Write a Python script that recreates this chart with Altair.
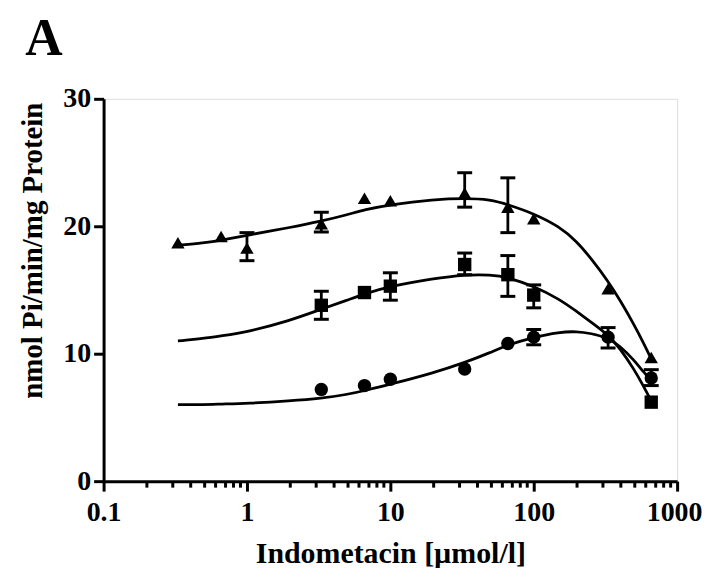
import altair as alt
import pandas as pd

FONT = "Liberation Serif"

# concentrations (µmol/l)
conc_tri = [0.33, 0.66, 1, 3.3, 6.6, 10, 33, 66, 100, 330, 660]
val_tri = [18.7, 19.2, 18.3, 20.2, 22.2, 22.0, 22.6, 21.5, 20.6, 15.1, 9.7]

conc_sq = [3.3, 6.6, 10, 33, 66, 100, 660]
val_sq = [13.8, 14.8, 15.3, 17.0, 16.2, 14.6, 6.2]

conc_ci = [3.3, 6.6, 10, 33, 66, 100, 330, 660]
val_ci = [7.2, 7.5, 8.0, 8.8, 10.8, 11.3, 11.3, 8.1]

# error bars (lo, hi)
err_tri_x = [1, 3.3, 33, 66]
err_tri_lo = [17.3, 19.55, 21.5, 19.5]
err_tri_hi = [19.5, 21.1, 24.2, 23.8]

err_sq_x = [3.3, 10, 33, 66, 100]
err_sq_lo = [12.7, 14.2, 16.2, 14.5, 13.6]
err_sq_hi = [14.9, 16.35, 17.9, 17.7, 15.4]

err_ci_x = [100, 330, 660]
err_ci_lo = [10.7, 10.45, 7.5]
err_ci_hi = [11.9, 12.05, 8.75]

# fitted curves
curve_x = [0.33, 0.5, 0.66, 1, 2, 3.3, 5, 6.6, 10, 20, 33, 50, 66, 100, 150, 200, 250, 330, 400, 500, 580, 660]
curve_tri = [18.5, 18.7, 18.9, 19.3, 19.9, 20.4, 20.9, 21.3, 21.7, 22.1, 22.2, 22.1, 21.7, 21.0, 20.0, 18.8, 17.5, 15.7, 14.2, 12.3, 10.9, 9.6]
curve_sq = [11.0, 11.2, 11.4, 11.7, 12.6, 13.5, 14.2, 14.7, 15.3, 15.9, 16.2, 16.2, 16.0, 15.3, 14.3, 13.3, 12.5, 11.5, 10.4, 8.8, 7.5, 6.3]
curve_ci = [6.0, 6.0, 6.05, 6.1, 6.3, 6.5, 6.8, 7.1, 7.6, 8.5, 9.3, 10.1, 10.7, 11.3, 11.7, 11.75, 11.6, 11.25, 10.6, 9.5, 8.6, 7.9]

x_major = [0.1, 1, 10, 100, 1000]
x_minor = [0.2, 0.3, 0.4, 0.5, 0.6, 0.7, 0.8, 0.9,
           2, 3, 4, 5, 6, 7, 8, 9,
           20, 30, 40, 50, 60, 70, 80, 90,
           200, 300, 400, 500, 600, 700, 800, 900]
y_ticks = [0, 10, 20, 30]

series_names = ["tri", "sq", "ci"]
shapes = ["triangle-up", "square", "circle"]

pts = pd.concat([
    pd.DataFrame({"s": "tri", "x": conc_tri, "y": val_tri}),
    pd.DataFrame({"s": "sq", "x": conc_sq, "y": val_sq}),
    pd.DataFrame({"s": "ci", "x": conc_ci, "y": val_ci}),
])
errs = pd.concat([
    pd.DataFrame({"s": "tri", "x": err_tri_x, "lo": err_tri_lo, "hi": err_tri_hi}),
    pd.DataFrame({"s": "sq", "x": err_sq_x, "lo": err_sq_lo, "hi": err_sq_hi}),
    pd.DataFrame({"s": "ci", "x": err_ci_x, "lo": err_ci_lo, "hi": err_ci_hi}),
])
curves = pd.concat([
    pd.DataFrame({"s": "tri", "x": curve_x, "y": curve_tri}),
    pd.DataFrame({"s": "sq", "x": curve_x, "y": curve_sq}),
    pd.DataFrame({"s": "ci", "x": curve_x, "y": curve_ci}),
])

major_test = " || ".join(f"datum.value == {v}" for v in x_major)

xscale = alt.Scale(type="log", domain=[0.1, 1000], nice=False)
yscale = alt.Scale(domain=[0, 30], nice=False)

xaxis = alt.Axis(
    values=sorted(x_major + x_minor),
    labelExpr=f"({major_test}) ? (datum.value == 0.1 ? '0.1' : format(datum.value, 'd')) : ''",
    tickSize={"condition": {"test": major_test, "value": 10}, "value": 6},
    labelOffset={"condition": {"test": "datum.value == 1000", "value": -3}, "value": 0},
    tickWidth=3, domainWidth=3, domainColor="black", tickColor="black",
    labelFont=FONT, labelFontSize=28, labelFontWeight="bold", labelColor="black",
    labelOverlap=False, labelFlush=False, labelPadding=8,
    title="Indometacin [µmol/l]", titleFont=FONT, titleFontSize=30,
    titleFontWeight="bold", titleColor="black", titlePadding=12, grid=False,
)
yaxis = alt.Axis(
    values=y_ticks, tickSize=10, tickWidth=3, domainWidth=3,
    domainColor="black", tickColor="black",
    labelFont=FONT, labelFontSize=28, labelFontWeight="bold", labelColor="black",
    labelPadding=3,
    title="nmol Pi/min/mg Protein", titleFont=FONT, titleFontSize=29,
    titleFontWeight="bold", titleColor="black", titlePadding=15, titleY=152, grid=False,
)

X = alt.X("x:Q", scale=xscale, axis=xaxis)

lines = alt.Chart(curves).mark_line(color="black", strokeWidth=2.8, interpolate="basis").encode(
    x=X, y=alt.Y("y:Q", scale=yscale, axis=yaxis), detail="s:N"
)
rules = alt.Chart(errs).mark_rule(color="black", strokeWidth=2.8).encode(
    x=alt.X("x:Q", scale=xscale), y=alt.Y("lo:Q", scale=yscale), y2="hi:Q"
)
cap_lo = alt.Chart(errs).mark_tick(color="black", orient="horizontal", size=15, thickness=3, opacity=1).encode(
    x=alt.X("x:Q", scale=xscale), y=alt.Y("lo:Q", scale=yscale)
)
cap_hi = alt.Chart(errs).mark_tick(color="black", orient="horizontal", size=15, thickness=3, opacity=1).encode(
    x=alt.X("x:Q", scale=xscale), y=alt.Y("hi:Q", scale=yscale)
)
points = alt.Chart(pts).mark_point(filled=True, color="black", opacity=1, size=180).encode(
    x=alt.X("x:Q", scale=xscale), y=alt.Y("y:Q", scale=yscale),
    shape=alt.Shape("s:N", scale=alt.Scale(domain=series_names, range=shapes), legend=None),
)
panel = alt.Chart(pd.DataFrame({"t": ["A"]})).mark_text(
    font=FONT, fontSize=52, fontWeight="bold", color="black", align="center", baseline="middle"
).encode(text="t:N", x=alt.value(-60), y=alt.value(-60))

chart = alt.layer(lines, rules, cap_lo, cap_hi, points, panel).properties(
    width=576, height=384,
    autosize=alt.AutoSizeParams(type="none"),
    padding={"left": 96, "top": 90, "right": 26, "bottom": 86},
).configure_view(stroke=None).configure(background="white")

chart.save("out.html", embed_options={"renderer": "svg", "actions": False})
